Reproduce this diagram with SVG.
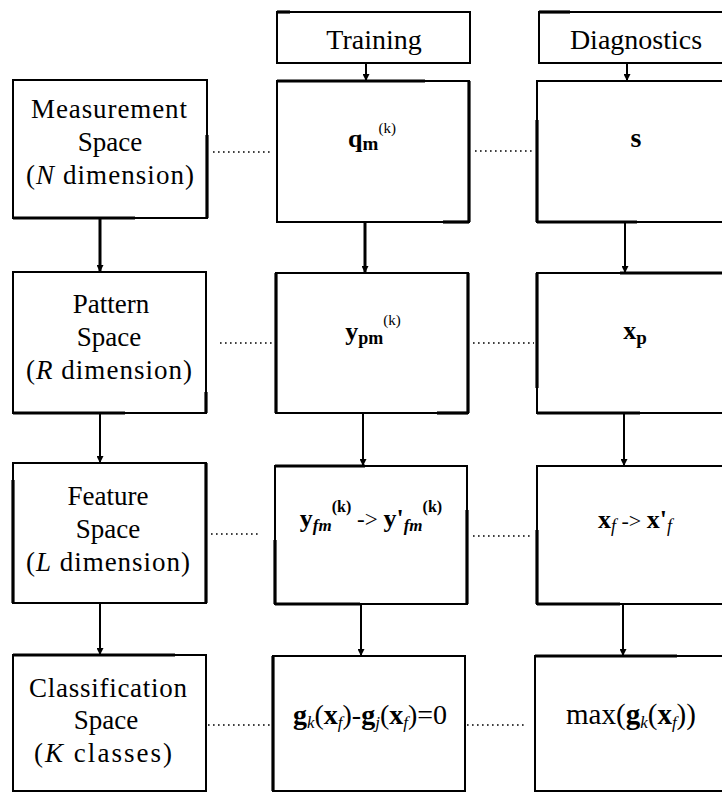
<svg xmlns="http://www.w3.org/2000/svg" width="722" height="792" viewBox="0 0 722 792">
<defs>
<style>
.box{fill:#fff;stroke:#000;stroke-width:2}
.thk{stroke:#000;stroke-width:3.2;fill:none}
.lbl{font-family:"Liberation Serif","Times New Roman",serif;font-size:27px;fill:#000;text-anchor:middle}
.math{font-family:"Liberation Serif","Times New Roman",serif;font-size:26px;fill:#000;text-anchor:middle}
.b{font-weight:bold}
.conn{stroke:#000;stroke-width:2;fill:none}
.dot{stroke:#000;stroke-width:1.6;fill:none;stroke-dasharray:1.6 3.4}
</style>
<marker id="ah" viewBox="0 0 8 8" refX="8" refY="4" markerWidth="7" markerHeight="7" markerUnits="userSpaceOnUse" orient="auto">
<path d="M0,0 L8,4 L0,8 z" fill="#000"/>
</marker>
</defs>
<rect width="722" height="792" fill="#fff"/>

<g id="connectors">
<line class="conn" x1="100" y1="218" x2="100" y2="272" marker-end="url(#ah)" style="stroke-width:3"/>
<line class="conn" x1="100" y1="413" x2="100" y2="463" marker-end="url(#ah)"/>
<line class="conn" x1="100" y1="603" x2="100" y2="655" marker-end="url(#ah)"/>
<line class="conn" x1="366" y1="63" x2="366" y2="81" marker-end="url(#ah)"/>
<line class="conn" x1="365" y1="222" x2="365" y2="273" marker-end="url(#ah)" style="stroke-width:3"/>
<line class="conn" x1="363" y1="413" x2="363" y2="466" marker-end="url(#ah)"/>
<line class="conn" x1="361" y1="604" x2="361" y2="656" marker-end="url(#ah)"/>
<line class="conn" x1="627" y1="63" x2="627" y2="81" marker-end="url(#ah)"/>
<line class="conn" x1="625" y1="222" x2="625" y2="273" marker-end="url(#ah)"/>
<line class="conn" x1="624" y1="413" x2="624" y2="466" marker-end="url(#ah)"/>
<line class="conn" x1="623" y1="604" x2="623" y2="656" marker-end="url(#ah)"/>
<line class="dot" x1="213" y1="152" x2="273" y2="152"/>
<line class="dot" x1="475" y1="151" x2="534" y2="151"/>
<line class="dot" x1="220" y1="343" x2="273" y2="343"/>
<line class="dot" x1="473" y1="343" x2="534" y2="343"/>
<line class="dot" x1="211" y1="534" x2="258" y2="534"/>
<line class="dot" x1="473" y1="536" x2="533" y2="536"/>
<line class="dot" x1="208" y1="725" x2="271" y2="725"/>
<line class="dot" x1="467" y1="725" x2="527" y2="725"/>
</g>

<g id="training">
<rect class="box" x="277" y="12" width="193" height="51"/>
<line class="thk" x1="277" y1="12" x2="290" y2="12"/>
<text class="lbl" x="374" y="49" style="font-size:28px">Training</text>
</g>
<g id="diagnostics">
<rect class="box" x="539" y="12" width="200" height="51"/>
<line class="thk" x1="539" y1="12" x2="570" y2="12"/>
<text class="lbl" x="636" y="49" style="font-size:28px">Diagnostics</text>
</g>

<g id="measurement">
<rect class="box" x="13" y="80" width="194" height="138"/>
<line class="thk" x1="207" y1="135" x2="207" y2="218"/>
<line class="thk" x1="13" y1="218" x2="135" y2="218"/>
<text class="lbl" x="109" y="118" textLength="156" lengthAdjust="spacing">Measurement</text>
<text class="lbl" x="110" y="151">Space</text>
<text class="lbl" x="110" y="184" textLength="168" lengthAdjust="spacing">(<tspan font-style="italic">N</tspan> dimension)</text>
</g>
<g id="pattern">
<rect class="box" x="13" y="272" width="193" height="141"/>
<line class="thk" x1="13" y1="413" x2="125" y2="413"/>
<line class="thk" x1="206" y1="392" x2="206" y2="413"/>
<text class="lbl" x="111" y="313">Pattern</text>
<text class="lbl" x="109" y="346">Space</text>
<text class="lbl" x="109" y="379" textLength="166" lengthAdjust="spacing">(<tspan font-style="italic">R</tspan> dimension)</text>
</g>
<g id="feature">
<rect class="box" x="13" y="463" width="193" height="140"/>
<line class="thk" x1="206" y1="463" x2="206" y2="603"/>
<line class="thk" x1="13" y1="480" x2="13" y2="603"/>
<text class="lbl" x="108" y="505">Feature</text>
<text class="lbl" x="108" y="538">Space</text>
<text class="lbl" x="108" y="571" textLength="164" lengthAdjust="spacing">(<tspan font-style="italic">L</tspan> dimension)</text>
</g>
<g id="classification">
<rect class="box" x="13" y="655" width="193" height="136"/>
<line class="thk" x1="13" y1="655" x2="175" y2="655"/>
<text class="lbl" x="108" y="697" textLength="158" lengthAdjust="spacing">Classification</text>
<text class="lbl" x="106" y="729">Space</text>
<text class="lbl" x="103" y="762" textLength="138" lengthAdjust="spacing">(<tspan font-style="italic">K</tspan> classes)</text>
</g>

<g id="q">
<rect class="box" x="277" y="81" width="192" height="141"/>
<line class="thk" x1="277" y1="81" x2="425" y2="81"/>
<line class="thk" x1="469" y1="81" x2="469" y2="222"/>
<line class="thk" x1="443" y1="222" x2="469" y2="222"/>
<text class="math" x="372" y="147"><tspan class="b">q</tspan><tspan class="b" font-size="19" dy="3">m</tspan><tspan font-size="15" dy="-17">(k)</tspan></text>
</g>
<g id="s">
<rect class="box" x="537" y="81" width="200" height="141"/>
<line class="thk" x1="537" y1="120" x2="537" y2="222"/>
<line class="thk" x1="537" y1="222" x2="637" y2="222"/>
<text class="math b" x="636" y="147" style="font-size:28px">s</text>
</g>
<g id="ypm">
<rect class="box" x="276" y="273" width="192" height="140"/>
<line class="thk" x1="276" y1="273" x2="276" y2="413"/>
<line class="thk" x1="468" y1="273" x2="468" y2="413"/>
<line class="thk" x1="437" y1="413" x2="468" y2="413"/>
<text class="math" x="373" y="340"><tspan class="b">y</tspan><tspan class="b" font-size="18" dy="4">pm</tspan><tspan font-size="15" dy="-19">(k)</tspan></text>
</g>
<g id="xp">
<rect class="box" x="537" y="273" width="200" height="140"/>
<line class="thk" x1="537" y1="273" x2="537" y2="388"/>
<line class="thk" x1="620" y1="273" x2="722" y2="273"/>
<line class="thk" x1="537" y1="413" x2="640" y2="413"/>
<text class="math" x="635" y="339"><tspan class="b">x</tspan><tspan class="b" font-size="19" dy="5">p</tspan></text>
</g>
<g id="yfm">
<rect class="box" x="275" y="466" width="192" height="138"/>
<line class="thk" x1="275" y1="466" x2="365" y2="466"/>
<line class="thk" x1="275" y1="540" x2="275" y2="604"/>
<line class="thk" x1="467" y1="510" x2="467" y2="604"/>
<line class="thk" x1="275" y1="604" x2="360" y2="604"/>
<text class="math" x="371" y="527"><tspan class="b">y</tspan><tspan class="b" font-style="italic" font-size="17" dy="4">fm</tspan><tspan class="b" font-size="16" dy="-19">(k)</tspan><tspan font-size="23" dy="15"> -&gt; </tspan><tspan class="b">y'</tspan><tspan class="b" font-style="italic" font-size="17" dy="4">fm</tspan><tspan class="b" font-size="16" dy="-19">(k)</tspan></text>
</g>
<g id="xf">
<rect class="box" x="537" y="466" width="200" height="138"/>
<line class="thk" x1="537" y1="530" x2="537" y2="604"/>
<line class="thk" x1="537" y1="604" x2="620" y2="604"/>
<text class="math" x="635" y="528"><tspan class="b">x</tspan><tspan font-style="italic" font-size="18" dy="4">f</tspan><tspan font-size="22" dy="-4"> -&gt; </tspan><tspan class="b">x'</tspan><tspan font-style="italic" font-size="18" dy="4">f</tspan></text>
</g>
<g id="gdiff">
<rect class="box" x="273" y="656" width="192" height="135"/>
<line class="thk" x1="273" y1="656" x2="273" y2="791"/>
<text class="math" x="370" y="724" style="font-size:28px"><tspan class="b">g</tspan><tspan font-style="italic" font-size="17" dy="4">k</tspan><tspan dy="-4">(</tspan><tspan class="b">x</tspan><tspan font-style="italic" font-size="17" dy="4">f</tspan><tspan dy="-4">)-</tspan><tspan class="b">g</tspan><tspan font-style="italic" font-size="17" dy="4">j</tspan><tspan dy="-4">(</tspan><tspan class="b">x</tspan><tspan font-style="italic" font-size="17" dy="4">f</tspan><tspan dy="-4">)=0</tspan></text>
</g>
<g id="maxg">
<rect class="box" x="535" y="656" width="202" height="135"/>
<line class="thk" x1="535" y1="656" x2="677" y2="656"/>
<text class="math" x="631" y="724" style="font-size:29px">max(<tspan class="b">g</tspan><tspan font-style="italic" font-size="17" dy="4">k</tspan><tspan dy="-4">(</tspan><tspan class="b">x</tspan><tspan font-style="italic" font-size="17" dy="4">f</tspan><tspan dy="-4">))</tspan></text>
</g>
</svg>
